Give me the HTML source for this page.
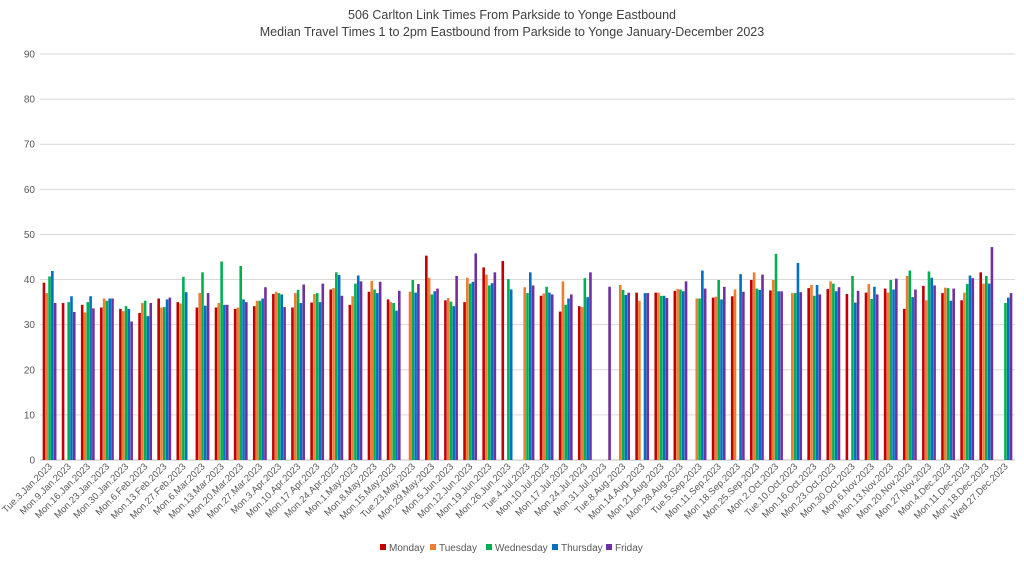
<!DOCTYPE html>
<html><head><meta charset="utf-8"><style>
body{margin:0;background:#fff;}
svg{display:block;font-family:"Liberation Sans",Arial,sans-serif;}
</style></head><body>
<svg id="chart" width="1024" height="563">
<text x="512" y="19" text-anchor="middle" font-size="12.5" fill="#404040">506 Carlton Link Times From Parkside to Yonge Eastbound</text>
<text x="512" y="36" text-anchor="middle" font-size="12.5" fill="#404040">Median Travel Times 1 to 2pm Eastbound from Parkside to Yonge January-December 2023</text>
<g id="grid"></g><g id="bars"></g><g id="xl"></g>
<g id="legend"></g>
</svg>
<script>
const categories=["Tue.3.Jan.2023","Mon.9.Jan.2023","Mon.16.Jan.2023","Mon.23.Jan.2023","Mon.30.Jan.2023","Mon.6.Feb.2023","Mon.13.Feb.2023","Mon.27.Feb.2023","Mon.6.Mar.2023","Mon.13.Mar.2023","Mon.20.Mar.2023","Mon.27.Mar.2023","Mon.3.Apr.2023","Mon.10.Apr.2023","Mon.17.Apr.2023","Mon.24.Apr.2023","Mon.1.May.2023","Mon.8.May.2023","Mon.15.May.2023","Tue.23.May.2023","Mon.29.May.2023","Mon.5.Jun.2023","Mon.12.Jun.2023","Mon.19.Jun.2023","Mon.26.Jun.2023","Tue.4.Jul.2023","Mon.10.Jul.2023","Mon.17.Jul.2023","Mon.24.Jul.2023","Mon.31.Jul.2023","Tue.8.Aug.2023","Mon.14.Aug.2023","Mon.21.Aug.2023","Mon.28.Aug.2023","Tue.5.Sep.2023","Mon.11.Sep.2023","Mon.18.Sep.2023","Mon.25.Sep.2023","Mon.2.Oct.2023","Tue.10.Oct.2023","Mon.16.Oct.2023","Mon.23.Oct.2023","Mon.30.Oct.2023","Mon.6.Nov.2023","Mon.13.Nov.2023","Mon.20.Nov.2023","Mon.27.Nov.2023","Mon.4.Dec.2023","Mon.11.Dec.2023","Mon.18.Dec.2023","Wed.27.Dec.2023"];
const monday=[39.3,34.8,34.4,33.8,33.5,32.6,35.8,35.0,33.8,33.8,33.5,34.1,36.8,33.8,34.9,37.8,34.4,37.3,35.6,null,45.3,35.4,35.0,42.7,44.1,null,36.4,32.9,34.1,null,null,37.1,37.1,37.5,null,36.0,36.3,39.9,37.6,null,38.1,37.9,36.8,37.1,38.0,33.5,38.6,37.0,35.4,41.6,null];
const tuesday=[37.0,null,32.7,35.8,33.0,34.8,33.8,34.7,37.0,34.8,33.8,35.3,37.3,37.0,36.8,38.1,36.3,39.7,35.0,37.3,40.4,35.9,40.4,41.1,null,38.3,36.9,39.6,33.9,null,38.8,35.3,37.1,37.9,35.8,36.2,37.8,41.6,39.9,37.0,38.8,39.6,null,39.0,37.1,40.8,35.4,38.2,37.1,39.1,null];
const wednesday=[40.7,35.0,35.0,35.3,34.1,35.3,33.9,40.6,41.6,44.0,43.0,35.3,37.0,37.7,37.0,41.6,39.1,37.8,34.8,39.9,36.7,35.1,39.1,38.7,40.1,37.0,38.4,34.4,40.3,null,37.7,null,36.4,37.8,35.8,39.9,null,38.0,45.7,37.0,36.4,39.1,40.8,35.7,39.9,42.0,41.8,38.1,39.0,40.8,34.8];
const thursday=[41.9,36.3,36.3,35.8,33.5,31.9,35.6,37.2,34.2,34.4,35.6,35.8,36.7,34.8,35.0,41.0,40.9,37.0,33.1,37.1,37.4,34.1,39.5,39.2,37.8,41.6,37.1,35.8,36.1,null,36.6,37.0,36.4,37.4,42.0,35.6,41.2,37.7,37.4,43.7,38.8,37.4,34.9,38.4,37.8,36.1,40.4,35.3,40.9,39.1,36.0];
const friday=[34.8,32.8,33.6,35.8,30.7,34.8,36.0,null,37.0,34.4,35.0,38.3,33.9,38.9,39.1,36.4,39.6,39.5,37.5,39.0,38.0,40.8,45.8,41.6,null,38.7,36.7,36.7,41.6,38.4,37.1,37.0,35.9,39.6,38.0,38.4,37.3,41.1,37.4,37.2,36.7,38.3,37.5,36.7,40.2,37.8,38.7,38.0,40.3,47.2,37.0];
const seriesNames=["Monday","Tuesday","Wednesday","Thursday","Friday"];
const yTicks=[0,10,20,30,40,50,60,70,80,90];
const colors=["#C00000","#ED7D31","#00B050","#0070C0","#7030A0"];
const NS="http://www.w3.org/2000/svg";
const L=40,R=1015,T=54,B=460,YMAX=90;
const yS=v=>B-(v/YMAX)*(B-T);
const bw=(R-L)/categories.length;
const xC=i=>L+bw*(i+0.5);
function mk(t,a,p){const e=document.createElementNS(NS,t);for(const k in a)e.setAttribute(k,a[k]);p.appendChild(e);return e;}
const grid=document.getElementById('grid');
yTicks.forEach(v=>{
 const l=mk('line',{x1:L,x2:R,y1:yS(v),y2:yS(v),stroke:v===0?'#bfbfbf':'#d9d9d9','stroke-width':1},grid);
 
 
 const t=mk('text',{x:35,y:yS(v)+3.5,'text-anchor':'end','font-size':10,fill:'#595959'},grid);
 t.textContent=v;
 
 
});
const all=[monday,tuesday,wednesday,thursday,friday];
const bars=document.getElementById('bars');
const bwid=2.6;
categories.forEach((c,i)=>{
 all.forEach((s,k)=>{
  const v=s[i]; if(v==null) return;
  const x=xC(i)+(k-2)*2.8-bwid/2;
  const r=mk('rect',{x:x,y:yS(v),width:bwid,height:B-yS(v),fill:colors[k]},bars);
  
  
 });
 const xl=document.getElementById('xl');
 const tx=xC(i)+3, ty=467;
 const t=mk('text',{x:tx,y:ty,'text-anchor':'end','font-size':9.5,fill:'#595959',transform:`rotate(-45 ${tx} ${ty})`},xl);
 t.textContent=c;
 
 
});
const lg=document.getElementById('legend');
const lx=[380,430,486,552,606];
seriesNames.forEach((n,k)=>{
 const r=mk('rect',{x:lx[k],y:544,width:6,height:6,fill:colors[k]},lg);
 
 
 const t=mk('text',{x:lx[k]+9,y:551,'font-size':10,fill:'#595959'},lg);
 t.textContent=n;
 
 
});
</script>
</body></html>
